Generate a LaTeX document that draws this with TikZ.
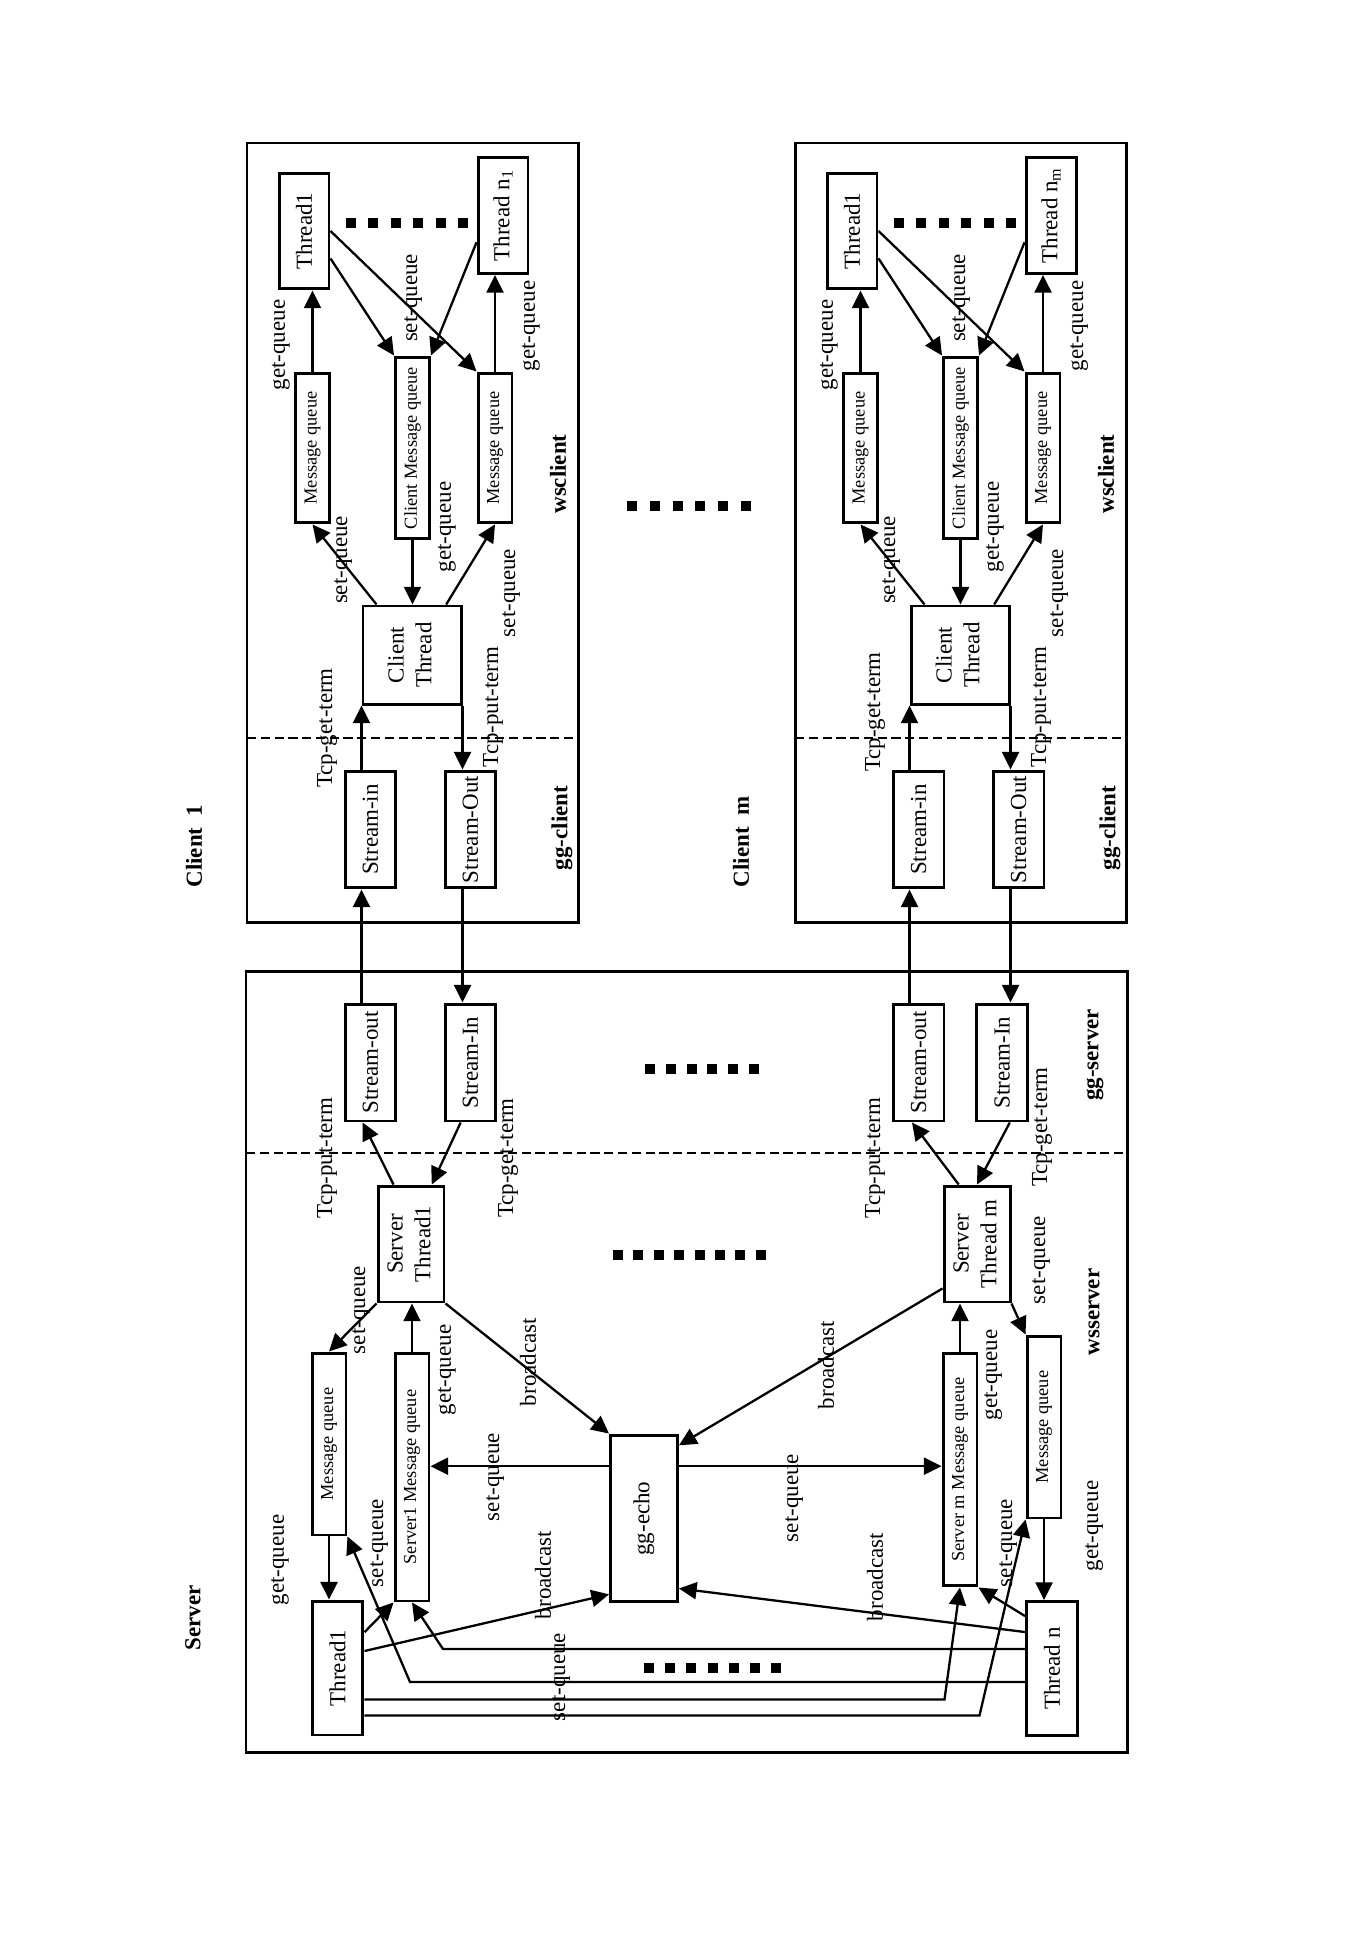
\documentclass[tikz,border=0pt]{standalone}
\usepackage{fontspec}
\setmainfont{Liberation Serif}
\usepackage{graphicx}
\usetikzlibrary{arrows.meta}
\newcommand{\vtxt}[1]{\rotatebox{90}{#1}}
\tikzset{
  box/.style={draw, rectangle, line width=1.3pt, inner sep=0pt, align=center, font=\fontsize{10}{12}\selectfont},
  qbox/.style={box, minimum width=0.52cm, font=\fontsize{8}{9}\selectfont},
  stream/.style={box, minimum width=0.78cm, minimum height=1.79cm},
  thbox/.style={box, minimum width=0.765cm, minimum height=1.775cm},
  ctbox/.style={box, minimum width=1.5cm, minimum height=1.5cm},
  sthbox/.style={box, minimum width=1.01cm, minimum height=1.775cm},
  tbox/.style={box, minimum width=0.78cm, minimum height=2.05cm},
  echobox/.style={box, minimum width=1.025cm, minimum height=2.555cm},
  lbl/.style={rotate=90, inner sep=0pt, font=\fontsize{10}{12}\selectfont},
  ttl/.style={lbl, font=\fontsize{10}{12}\selectfont\bfseries},
  line/.style={draw, line width=1pt, -{Triangle[length=0.27cm,width=0.26cm]}},
  frame/.style={draw, line width=1.3pt},
  divider/.style={draw, line width=1pt, dash pattern=on 4pt off 2pt}
}
\begin{document}
\begin{tikzpicture}[x=0.0153cm, y=-0.0153cm]
  \useasboundingbox (0,0) rectangle (1372,1941);

  % clients
  \foreach \cl/\dx/\tgy in {1/0/728, m/548/712}{
    \begin{scope}[shift={(\dx,0)}]
      \draw[frame] (247,143) rectangle (578,922);
      \draw[divider] (247,738) -- (578,738);
      \node[thbox] (cth1\cl) at (304,231) {\vtxt{Thread1}};
      \node[thbox] (cthn\cl) at (503,215.5) {\vtxt{Thread n\textsubscript{\cl}}};
      \node[qbox, minimum height=2.295cm] (cmql\cl) at (312.5,448) {\vtxt{Message queue}};
      \node[qbox, minimum height=2.785cm] (cmq\cl) at (412.5,448) {\vtxt{Client Message queue}};
      \node[qbox, minimum height=2.295cm] (cmqr\cl) at (495,448) {\vtxt{Message queue}};
      \node[ctbox] (ct\cl) at (412,655) {\vtxt{\begin{tabular}{@{}c@{}}Client\\Thread\end{tabular}}};
      \node[stream] (cin\cl) at (370.5,829.5) {\vtxt{Stream-in}};
      \node[stream] (cout\cl) at (470.5,829.5) {\vtxt{Stream-Out}};
      \foreach \k in {0,...,5} \fill (346+22.4*\k,218) rectangle ++(10,10);

      \node[lbl] (cgq1\cl) at (281,345) {get-queue};
      \node[lbl] (csq1\cl) at (413,298) {set-queue};
      \node[lbl] (cgq2\cl) at (531,326) {get-queue};
      \node[lbl] (csq2\cl) at (343,560) {set-queue};
      \node[lbl] (cgq3\cl) at (447,527) {get-queue};
      \node[lbl] (csq3\cl) at (511,593) {set-queue};
      \node[lbl] (ctg\cl) at (327,\tgy) {Tcp-get-term};
      \node[lbl] (ctp\cl) at (493,707) {Tcp-put-term};
      \node[ttl] (cws\cl) at (558,474) {wsclient};
      \node[ttl] (cgg\cl) at (562,828) {gg-client};

      \path[line] (cmql\cl.north) -- (cmql\cl.north |- cth1\cl.south);
      \path[line] ([yshift=0.49cm]cth1\cl.south east) -- (cmq\cl.north west);
      \path[line] (cth1\cl.east) -- (cmqr\cl.north west);
      \path[line] ([yshift=0.5cm]cthn\cl.south west) -- (cmq\cl.north east);
      \path[line] (cmqr\cl.north) -- (cmqr\cl.north |- cthn\cl.south);
      \path[line] ([xshift=0.23cm]ct\cl.north west) -- (cmql\cl.south);
      \path[line] (cmq\cl.south) -- (cmq\cl.south |- ct\cl.north);
      \path[line] ([xshift=-0.25cm]ct\cl.north east) -- (cmqr\cl.south);
      \path[line] (cin\cl.north -| ct\cl.south west) -- (ct\cl.south west);
      \path[line] (ct\cl.south east) -- (ct\cl.south east |- cout\cl.north);
    \end{scope}
  }
  \node[ttl] (client1) at (194,846) {Client\ \ 1};
  \node[ttl] (clientm) at (741,842) {Client\ \ m};
  \foreach \k in {0,...,5} \fill (627+22.8*\k,501) rectangle ++(10,10);

  % server
  \draw[frame] (246,971) rectangle (1127,1752);
  \draw[divider] (246,1153) -- (1127,1153);
  \node[stream] (sout1) at (370.5,1062.5) {\vtxt{Stream-out}};
  \node[stream] (sin1) at (470.5,1062.5) {\vtxt{Stream-In}};
  \node[sthbox] (st1) at (411,1244) {\vtxt{\begin{tabular}{@{}c@{}}Server\\Thread1\end{tabular}}};
  \node[stream] (soutm) at (918.5,1062.5) {\vtxt{Stream-out}};
  \node[stream] (sinm) at (1002,1062.5) {\vtxt{Stream-In}};
  \node[sthbox] (stm) at (977,1244) {\vtxt{\begin{tabular}{@{}c@{}}Server\\Thread m\end{tabular}}};
  \node[qbox, minimum height=2.785cm] (sq1) at (329,1444) {\vtxt{Message queue}};
  \node[qbox, minimum height=3.795cm] (s1mq) at (412,1477) {\vtxt{Server1 Message queue}};
  \node[qbox, minimum height=3.565cm] (smmq) at (960,1469.5) {\vtxt{Server m Message queue}};
  \node[qbox, minimum height=2.785cm] (sqn) at (1044,1427) {\vtxt{Message queue}};
  \node[tbox] (t1) at (337.5,1668) {\vtxt{Thread1}};
  \node[tbox] (tn) at (1052,1668.5) {\vtxt{Thread n}};
  \node[echobox] (echo) at (644,1518.5) {\vtxt{gg-echo}};
  \foreach \k in {0,...,5} \fill (645+20.8*\k,1064) rectangle ++(10,10);
  \foreach \k in {0,...,7} \fill (613+20.4*\k,1250) rectangle ++(10,10);
  \foreach \k in {0,...,6} \fill (644+21.2*\k,1663) rectangle ++(10,10);

  \node[ttl] (server) at (193,1618) {Server};
  \node[ttl] (wsserver) at (1094,1312) {wsserver};
  \node[ttl] (ggserver) at (1095,1055) {gg-server};
  \node[lbl] (stp1) at (327,1158) {Tcp-put-term};
  \node[lbl] (stg1) at (508,1158) {Tcp-get-term};
  \node[lbl] (stpm) at (875,1158) {Tcp-put-term};
  \node[lbl] (stgm) at (1042,1127) {Tcp-get-term};
  \node[lbl] (ssq1) at (361,1310) {set-queue};
  \node[lbl] (sgq1) at (447,1370) {get-queue};
  \node[lbl] (sbc1) at (528,1362) {broadcast};
  \node[lbl] (ssq2) at (495,1477) {set-queue};
  \node[lbl] (ssq3) at (794,1498) {set-queue};
  \node[lbl] (sgq2) at (280,1560) {get-queue};
  \node[lbl] (ssq4) at (379,1543) {set-queue};
  \node[lbl] (sbc2) at (543,1575) {broadcast};
  \node[lbl] (ssq5) at (561,1677) {set-queue};
  \node[lbl] (sbc3) at (875,1577) {broadcast};
  \node[lbl] (sbc4) at (826,1365) {broadcast};
  \node[lbl] (ssq6) at (1041,1260) {set-queue};
  \node[lbl] (sgq3) at (993,1375) {get-queue};
  \node[lbl] (ssq7) at (1008,1543) {set-queue};
  \node[lbl] (sgq4) at (1094,1526) {get-queue};

  \coordinate (eL) at ([yshift=-0.5cm]echo.north west);
  \coordinate (eR) at ([yshift=-0.5cm]echo.north east);

  % client <-> server streams
  \path[line] (sout1.north -| ct1.west) -- (cin1.south -| ct1.west);
  \path[line] (cout1.south -| ct1.east) -- (sin1.north -| ct1.east);
  \path[line] (soutm.north -| ctm.west) -- (cinm.south -| ctm.west);
  \path[line] (coutm.south -| ctm.east) -- (sinm.north -| ctm.east);

  \path[line] ([xshift=0.26cm]st1.north west) -- ([xshift=-0.12cm]sout1.south);
  \path[line] ([xshift=-0.15cm]sin1.south) -- ([xshift=-0.21cm]st1.north east);
  \path[line] ([xshift=-0.28cm]stm.north) -- ([xshift=-0.1cm]soutm.south);
  \path[line] ([xshift=0.12cm]sinm.south) -- (stm.north);
  \path[line] (st1.south west) -- (sq1.north);
  \path[line] (s1mq.north) -- (s1mq.north |- st1.south);
  \path[line] (st1.south east) -- (echo.north west);
  \path[line] (eL) -- (eL -| s1mq.east);
  \path[line] (eR) -- (eR -| smmq.west);
  \path[line] (sq1.south) -- (sq1.south |- t1.north);
  \path[line] ([yshift=0.26cm]t1.east) -- ([yshift=0.14cm]echo.south west);
  \path[line] ([yshift=-0.5cm]t1.north east) -- (s1mq.south west);
  \path[line] ([yshift=-0.75cm]tn.north west) -- ++(-582,0) -- (s1mq.south);
  \path[line] ([yshift=-1.255cm]tn.north west) -- ++(-615,0) -- (sq1.south east);
  \path[line] ([yshift=-1.53cm]t1.north east) -- ++(580,0) -- (smmq.south);
  \path[line] ([yshift=-1.775cm]t1.north east) -- ++(615,0) -- (sqn.south west);
  \path[line] ([yshift=-0.49cm]tn.north west) -- ([yshift=0.23cm]echo.south east);
  \path[line] ([yshift=-0.245cm]tn.north west) -- (smmq.south east);
  \path[line] (sqn.south) -- (sqn.south |- tn.north);
  \path[line] (stm.south east) -- (sqn.north west);
  \path[line] (smmq.north) -- (smmq.north |- stm.south);
  \path[line] ([yshift=0.23cm]stm.south west) -- ([yshift=-0.18cm]echo.north east);
\end{tikzpicture}
\end{document}
